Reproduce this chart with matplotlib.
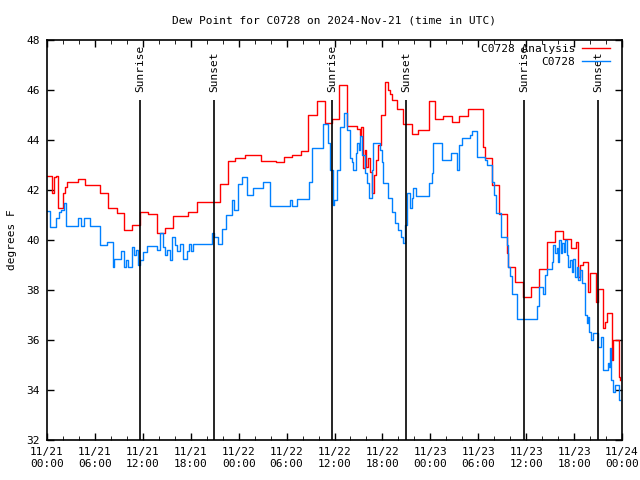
import matplotlib
matplotlib.use("Agg")
import matplotlib.pyplot as plt
import numpy as np

# hours since 2024-11-21 00:00 UTC
analysis_hours = [0, 0.63, 0.9, 1.1, 1.4, 1.6, 2.0, 2.25, 2.5, 3.9, 4.75, 6.6, 7.6, 8.75,
                  9.65, 10.65, 11.65, 12.65, 13.8, 14.8, 15.8, 17.65, 18.8, 21.65, 22.65,
                  23.55, 24.8, 26.8, 28.65, 29.65, 30.7, 31.8, 32.7, 33.8, 34.8, 35.7, 36.55,
                  37.55, 38.8, 39.2, 39.3, 39.55, 39.8, 39.95, 40.2, 40.45, 40.7, 40.95, 41.2,
                  41.45, 41.8, 42.3, 42.7, 42.95, 43.2, 43.8, 44.6, 45.7, 46.45, 47.85, 48.6,
                  49.6, 50.7, 51.6, 52.7, 54.6, 54.85, 55.7, 56.6, 57.6, 57.7, 58.6, 59.6,
                  60.6, 61.6, 62.6, 63.6, 64.6, 65.6, 66.25, 66.5, 66.75, 67.1, 67.75, 68.0,
                  68.75, 69.0, 69.6, 69.9, 70.1, 70.75, 70.9, 71.6, 71.75]
analysis_vals = [42.57, 41.87, 42.5, 42.55, 41.28, 41.28, 41.87, 42.1, 42.32, 42.44, 42.2,
                 41.87, 41.29, 41.07, 40.4, 40.6, 41.13, 41.04, 40.29, 40.48, 40.96, 41.13,
                 41.52, 42.24, 43.17, 43.27, 43.4, 43.16, 43.1, 43.33, 43.39, 43.56, 45.0,
                 45.57, 44.68, 44.83, 46.2, 44.56, 44.44, 44.2, 44.5, 42.88, 43.6, 42.9, 43.3,
                 42.7, 41.87, 42.6, 43.2, 43.8, 45.0, 46.33, 46.0, 45.85, 45.6, 45.24, 44.64,
                 44.24, 44.4, 45.57, 44.83, 44.97, 44.71, 44.97, 45.25, 43.73, 43.29, 42.2,
                 41.04, 39.47, 38.93, 38.33, 37.73, 38.11, 38.83, 39.93, 40.37, 40.03, 39.67,
                 39.93, 38.53, 39.0, 39.13, 37.93, 38.67, 37.53, 38.03, 36.47, 36.7, 37.07,
                 35.2, 36.0, 34.53, 34.4]

obs_hours = [0, 0.4, 1.1, 1.5, 1.75, 2.1, 2.4, 3.9, 4.25, 4.65, 5.4, 6.6, 7.5, 8.25, 8.4,
             9.25, 9.65, 9.9, 10.15, 10.65, 10.9, 11.15, 11.4, 11.65, 12.0, 12.5, 13.8, 14.15,
             14.5, 14.8, 15.0, 15.4, 15.65, 16.0, 16.3, 16.65, 17.0, 17.5, 17.8, 18.0, 18.3,
             20.65, 20.9, 21.4, 21.9, 22.4, 23.15, 23.4, 23.9, 24.4, 25.05, 25.8, 27.05, 27.9,
             30.4, 30.7, 31.3, 32.8, 33.2, 34.55, 35.2, 35.45, 35.8, 35.95, 36.3, 36.7, 37.2,
             37.55, 37.95, 38.2, 38.3, 38.7, 38.8, 39.05, 39.2, 39.45, 39.8, 40.05, 40.3,
             40.7, 40.8, 41.7, 41.95, 42.05, 42.7, 43.2, 43.6, 43.95, 44.35, 44.6, 44.85,
             45.1, 45.45, 45.7, 45.85, 46.2, 47.85, 48.2, 48.35, 49.45, 50.6, 51.35, 51.6,
             51.95, 53.0, 53.2, 53.85, 54.85, 55.1, 55.7, 56.0, 56.2, 56.85, 57.6, 57.7,
             58.0, 58.2, 58.85, 61.35, 61.6, 62.1, 62.35, 62.6, 63.25, 63.35, 63.6, 63.85,
             64.0, 64.1, 64.35, 64.5, 64.75, 64.85, 65.1, 65.25, 65.5, 65.75, 65.85, 66.1,
             66.4, 66.5, 66.75, 67.0, 67.35, 67.6, 67.75, 67.85, 68.1, 68.35, 69.0, 69.4,
             69.65, 70.3, 70.4, 70.5, 70.65, 70.9, 71.1, 71.6, 71.75]
obs_vals = [41.16, 40.53, 40.88, 41.13, 41.2, 41.49, 40.56, 40.87, 40.56, 40.87, 40.56, 39.8,
            39.91, 38.93, 39.23, 39.56, 38.92, 39.2, 38.9, 39.73, 39.4, 39.6, 39.0, 39.2,
            39.53, 39.77, 39.6, 40.27, 39.7, 39.4, 39.6, 39.2, 40.13, 39.8, 39.56, 39.85,
            39.23, 39.55, 39.83, 39.55, 39.83, 40.27, 40.1, 39.84, 40.43, 41.0, 41.6, 41.2,
            42.24, 42.53, 41.8, 42.07, 42.33, 41.37, 41.6, 41.37, 41.63, 42.33, 43.67, 44.63,
            43.87, 42.8, 41.4, 41.6, 42.8, 44.53, 45.07, 44.4, 43.27, 43.1, 42.8, 43.47,
            43.87, 43.6, 44.16, 43.4, 42.67, 42.3, 41.67, 42.8, 43.87, 43.6, 43.1, 42.27,
            41.67, 41.13, 40.67, 40.4, 40.1, 39.87, 40.6, 41.87, 41.27, 41.67, 42.07, 41.76,
            42.27, 42.67, 43.89, 43.2, 43.49, 42.8, 43.8, 44.07, 44.2, 44.36, 43.33, 43.2,
            43.0, 42.33, 41.8, 41.07, 40.11, 39.8, 38.93, 38.56, 37.83, 36.83, 37.36, 38.11,
            37.83, 38.6, 38.83, 39.13, 39.8, 39.47, 39.67, 39.13, 40.0, 39.47, 39.87, 39.5,
            40.0, 39.4, 38.93, 39.2, 38.73, 39.23, 38.53, 38.93, 38.4, 38.8, 38.29, 37.0,
            36.67, 36.93, 36.33, 36.0, 36.27, 35.73, 36.13, 34.8, 35.07, 34.93, 35.67, 34.4,
            33.93, 34.2, 33.6, 33.6]

sun_hours = [11.65, 20.9, 35.7, 44.95, 59.7, 69.0]
sun_labels = ["Sunrise", "Sunset", "Sunrise", "Sunset", "Sunrise", "Sunset"]

tick_hours = list(range(0, 73, 6))
tick_labels = ["11/21\n00:00", "11/21\n06:00", "11/21\n12:00", "11/21\n18:00",
               "11/22\n00:00", "11/22\n06:00", "11/22\n12:00", "11/22\n18:00",
               "11/23\n00:00", "11/23\n06:00", "11/23\n12:00", "11/23\n18:00",
               "11/24\n00:00"]

plt.rcParams['font.family'] = 'DejaVu Sans Mono'
plt.rcParams['font.size'] = 8

fig = plt.figure(figsize=(6.4, 4.8), dpi=100)
ax = fig.add_axes([47 / 640, 40 / 480, 575 / 640, 400 / 480])

ax.plot(analysis_hours, analysis_vals, color='#ff0000', lw=1.0,
        drawstyle='steps-post', label='C0728 Analysis')
ax.plot(obs_hours, obs_vals, color='#0080ff', lw=1.0,
        drawstyle='steps-post', label='C0728')

for h, lab in zip(sun_hours, sun_labels):
    ax.vlines(h, 32, 45.6, color='black', lw=1.2)
    ax.text(h, 45.9, lab, rotation=90, ha='center', va='bottom', fontsize=8)

ax.set_xlim(0, 72)
ax.set_ylim(32, 48)
ax.set_xticks(tick_hours)
ax.set_xticklabels(tick_labels)
ax.set_xticks(np.arange(0, 73, 2), minor=True)
ax.set_yticks(np.arange(32, 49, 2))
ax.tick_params(direction='in', top=True, right=True, length=5, width=1, pad=5)
ax.tick_params(which='minor', direction='in', top=True, right=True, length=3)
for s in ax.spines.values():
    s.set_linewidth(1.2)

ax.set_ylabel('degrees F', labelpad=7)
ax.set_title('Dew Point for C0728 on 2024-Nov-21 (time in UTC)', pad=12, fontsize=8)

ax.legend(loc='upper right', frameon=False, markerfirst=False, fontsize=8,
          handlelength=2.5, handletextpad=0.6, labelspacing=0.25,
          borderpad=0, borderaxespad=0, bbox_to_anchor=(0.979, 0.99))

fig.savefig('out.png', dpi=100)
